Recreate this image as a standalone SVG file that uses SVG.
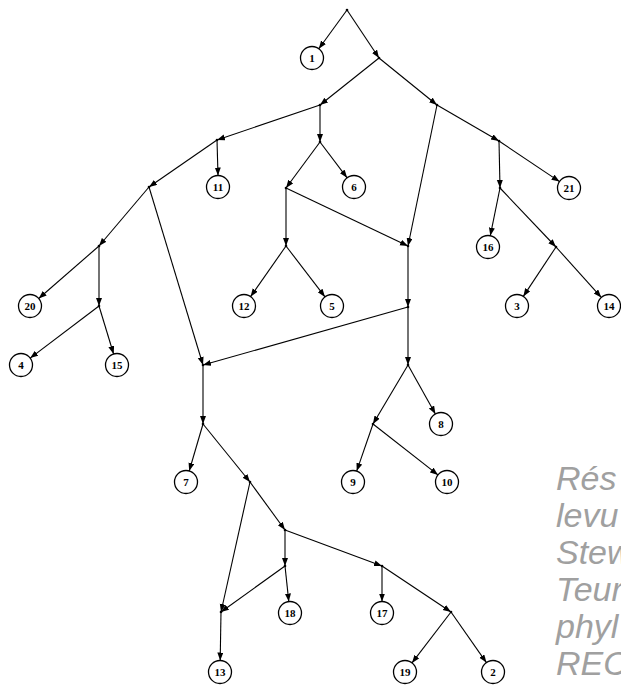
<svg xmlns="http://www.w3.org/2000/svg" width="621" height="686" viewBox="0 0 621 686">
<defs>
<marker id="ah" markerUnits="userSpaceOnUse" markerWidth="9" markerHeight="7" refX="8" refY="3" orient="auto">
<path d="M0,0 L8,3 L0,6 z" fill="#000"/>
</marker>
<style>
.leaf circle{fill:#fff;stroke:#000;stroke-width:1.3}
.leaf text{font-family:"Liberation Serif","Times New Roman",serif;font-size:11px;font-weight:bold;text-anchor:middle;fill:#000}
.j circle{fill:#000}
#edges line{stroke:#000;stroke-width:1.1;marker-end:url(#ah)}
.note{font-family:"Liberation Sans",Arial,sans-serif;font-style:italic;font-size:34px;fill:#a0a0a0}
</style>
</defs>
<rect width="621" height="686" fill="#fff"/>
<g id="edges">
<line x1="347" y1="10" x2="318.8" y2="48.7"/>
<line x1="347" y1="10" x2="379" y2="58"/>
<line x1="379" y1="58" x2="320" y2="105"/>
<line x1="379" y1="58" x2="437" y2="105"/>
<line x1="320" y1="105" x2="320" y2="142"/>
<line x1="320" y1="105" x2="217" y2="140"/>
<line x1="217" y1="140" x2="218" y2="175.5"/>
<line x1="217" y1="140" x2="149" y2="187"/>
<line x1="320" y1="142" x2="347.1" y2="177.8"/>
<line x1="320" y1="142" x2="286" y2="188"/>
<line x1="286" y1="188" x2="286" y2="246"/>
<line x1="286" y1="188" x2="408" y2="246"/>
<line x1="286" y1="246" x2="250.6" y2="296.6"/>
<line x1="286" y1="246" x2="325" y2="296.9"/>
<line x1="437" y1="105" x2="408" y2="246"/>
<line x1="437" y1="105" x2="499" y2="141"/>
<line x1="499" y1="141" x2="559.5" y2="181.6"/>
<line x1="499" y1="141" x2="500" y2="188"/>
<line x1="500" y1="188" x2="490.3" y2="235.7"/>
<line x1="500" y1="188" x2="556" y2="247"/>
<line x1="556" y1="247" x2="523.3" y2="296.4"/>
<line x1="556" y1="247" x2="601.3" y2="297.4"/>
<line x1="408" y1="246" x2="408" y2="307"/>
<line x1="408" y1="307" x2="203" y2="365"/>
<line x1="408" y1="307" x2="408" y2="365"/>
<line x1="408" y1="365" x2="373" y2="424"/>
<line x1="408" y1="365" x2="435.4" y2="414"/>
<line x1="373" y1="424" x2="356.7" y2="471.1"/>
<line x1="373" y1="424" x2="438" y2="474.9"/>
<line x1="149" y1="187" x2="99" y2="246"/>
<line x1="149" y1="187" x2="203" y2="365"/>
<line x1="99" y1="246" x2="38.7" y2="298.5"/>
<line x1="99" y1="246" x2="99" y2="306"/>
<line x1="99" y1="306" x2="30.2" y2="358.1"/>
<line x1="99" y1="306" x2="113.6" y2="354"/>
<line x1="203" y1="365" x2="203" y2="424"/>
<line x1="203" y1="424" x2="189.2" y2="471"/>
<line x1="203" y1="424" x2="250" y2="482"/>
<line x1="250" y1="482" x2="285" y2="530"/>
<line x1="250" y1="482" x2="221" y2="612"/>
<line x1="285" y1="530" x2="285" y2="566"/>
<line x1="285" y1="530" x2="382" y2="566"/>
<line x1="285" y1="566" x2="221" y2="612"/>
<line x1="285" y1="566" x2="288.8" y2="601.6"/>
<line x1="221" y1="612" x2="220.2" y2="660.5"/>
<line x1="382" y1="566" x2="382" y2="601.5"/>
<line x1="382" y1="566" x2="451" y2="612"/>
<line x1="451" y1="612" x2="412" y2="662.9"/>
<line x1="451" y1="612" x2="486.4" y2="662.6"/>
</g>
<g id="j_root" class="j"><circle cx="347" cy="10" r="1.3"/></g>
<g id="j_a" class="j"><circle cx="379" cy="58" r="1.3"/></g>
<g id="j_b" class="j"><circle cx="320" cy="105" r="1.3"/></g>
<g id="j_c" class="j"><circle cx="437" cy="105" r="1.3"/></g>
<g id="j_d" class="j"><circle cx="320" cy="142" r="1.3"/></g>
<g id="j_e" class="j"><circle cx="217" cy="140" r="1.3"/></g>
<g id="j_f" class="j"><circle cx="149" cy="187" r="1.3"/></g>
<g id="j_g" class="j"><circle cx="286" cy="188" r="1.3"/></g>
<g id="j_h" class="j"><circle cx="286" cy="246" r="1.3"/></g>
<g id="j_i" class="j"><circle cx="408" cy="246" r="1.3"/></g>
<g id="j_j" class="j"><circle cx="499" cy="141" r="1.3"/></g>
<g id="j_k" class="j"><circle cx="500" cy="188" r="1.3"/></g>
<g id="j_l" class="j"><circle cx="556" cy="247" r="1.3"/></g>
<g id="j_m" class="j"><circle cx="408" cy="307" r="1.3"/></g>
<g id="j_n" class="j"><circle cx="203" cy="365" r="1.3"/></g>
<g id="j_o" class="j"><circle cx="408" cy="365" r="1.3"/></g>
<g id="j_p" class="j"><circle cx="373" cy="424" r="1.3"/></g>
<g id="j_q" class="j"><circle cx="99" cy="246" r="1.3"/></g>
<g id="j_r" class="j"><circle cx="99" cy="306" r="1.3"/></g>
<g id="j_s" class="j"><circle cx="203" cy="424" r="1.3"/></g>
<g id="j_t" class="j"><circle cx="250" cy="482" r="1.3"/></g>
<g id="j_u" class="j"><circle cx="285" cy="530" r="1.3"/></g>
<g id="j_v" class="j"><circle cx="221" cy="612" r="1.3"/></g>
<g id="j_w" class="j"><circle cx="285" cy="566" r="1.3"/></g>
<g id="j_x" class="j"><circle cx="382" cy="566" r="1.3"/></g>
<g id="j_y" class="j"><circle cx="451" cy="612" r="1.3"/></g>
<g id="n1" class="leaf"><circle cx="312" cy="58" r="11.5"/><text x="312" y="62">1</text></g>
<g id="n11" class="leaf"><circle cx="218" cy="187" r="11.5"/><text x="218" y="191">11</text></g>
<g id="n6" class="leaf"><circle cx="354" cy="187" r="11.5"/><text x="354" y="191">6</text></g>
<g id="n21" class="leaf"><circle cx="569" cy="188" r="11.5"/><text x="569" y="192">21</text></g>
<g id="n16" class="leaf"><circle cx="488" cy="247" r="11.5"/><text x="488" y="251">16</text></g>
<g id="n20" class="leaf"><circle cx="30" cy="306" r="11.5"/><text x="30" y="310">20</text></g>
<g id="n12" class="leaf"><circle cx="244" cy="306" r="11.5"/><text x="244" y="310">12</text></g>
<g id="n5" class="leaf"><circle cx="332" cy="306" r="11.5"/><text x="332" y="310">5</text></g>
<g id="n3" class="leaf"><circle cx="517" cy="306" r="11.5"/><text x="517" y="310">3</text></g>
<g id="n14" class="leaf"><circle cx="609" cy="306" r="11.5"/><text x="609" y="310">14</text></g>
<g id="n4" class="leaf"><circle cx="21" cy="365" r="11.5"/><text x="21" y="369">4</text></g>
<g id="n15" class="leaf"><circle cx="117" cy="365" r="11.5"/><text x="117" y="369">15</text></g>
<g id="n8" class="leaf"><circle cx="441" cy="424" r="11.5"/><text x="441" y="428">8</text></g>
<g id="n7" class="leaf"><circle cx="186" cy="482" r="11.5"/><text x="186" y="486">7</text></g>
<g id="n9" class="leaf"><circle cx="353" cy="482" r="11.5"/><text x="353" y="486">9</text></g>
<g id="n10" class="leaf"><circle cx="447" cy="482" r="11.5"/><text x="447" y="486">10</text></g>
<g id="n18" class="leaf"><circle cx="290" cy="613" r="11.5"/><text x="290" y="617">18</text></g>
<g id="n17" class="leaf"><circle cx="382" cy="613" r="11.5"/><text x="382" y="617">17</text></g>
<g id="n13" class="leaf"><circle cx="220" cy="672" r="11.5"/><text x="220" y="676">13</text></g>
<g id="n19" class="leaf"><circle cx="405" cy="672" r="11.5"/><text x="405" y="676">19</text></g>
<g id="n2" class="leaf"><circle cx="493" cy="672" r="11.5"/><text x="493" y="676">2</text></g>
<g id="caption">
<text class="note" x="556" y="490">Rés</text>
<text class="note" x="556" y="527">levu</text>
<text class="note" x="556" y="564">Stew</text>
<text class="note" x="556" y="601">Teur</text>
<text class="note" x="556" y="638">phyl</text>
<text class="note" x="556" y="675">REC</text>
</g>
</svg>
